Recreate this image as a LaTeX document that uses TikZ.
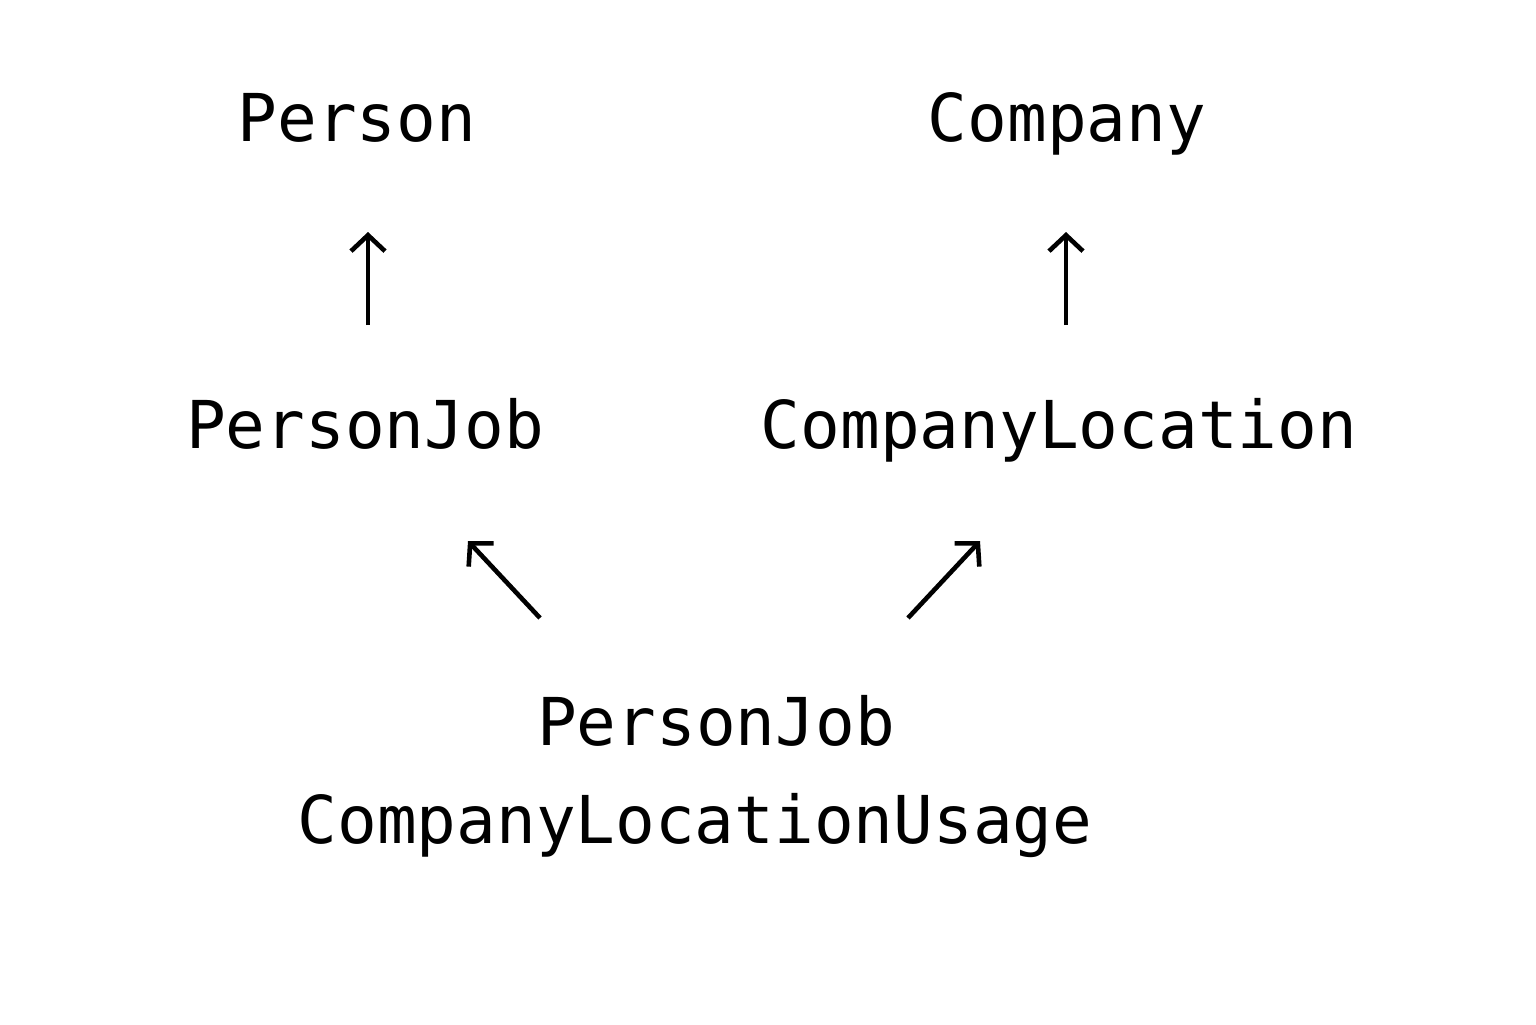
\documentclass[tikz,border=0pt]{standalone}
\usepackage{fontspec}
\newfontfamily\diagfont{DejaVu Sans Mono}
\usetikzlibrary{arrows.meta}
\begin{document}
\begin{tikzpicture}[x=0.5pt,y=-0.5pt,
  lbl/.style={font=\diagfont\fontsize{33}{40}\selectfont, anchor=base, inner sep=0pt},
  arr/.style={line width=2.3pt, -{Straight Barb[length=8pt,width=17pt,line width=2.3pt]}}]
\useasboundingbox (0,0) rectangle (1536,1024);
\node[lbl] (person) at (357,141) {Person};
\node[lbl] (company) at (1067,141) {Company};
\node[lbl] (pj) at (365,448) {PersonJob};
\node[lbl] (cl) at (1059,448) {CompanyLocation};
\node[lbl] (u1) at (716,745) {PersonJob};
\node[lbl] (u2) at (695,843) {CompanyLocationUsage};
\coordinate (a1s) at (368,325); \coordinate (a1e) at (368,232);
\coordinate (a2s) at (1066,325); \coordinate (a2e) at (1066,232);
\coordinate (a3s) at (540,618); \coordinate (a3e) at (468,541);
\coordinate (a4s) at (908,618); \coordinate (a4e) at (980,541);
\draw[arr] (a1s) -- (a1e);
\draw[arr] (a2s) -- (a2e);
\draw[arr] (a3s) -- (a3e);
\draw[arr] (a4s) -- (a4e);
\end{tikzpicture}
\end{document}
